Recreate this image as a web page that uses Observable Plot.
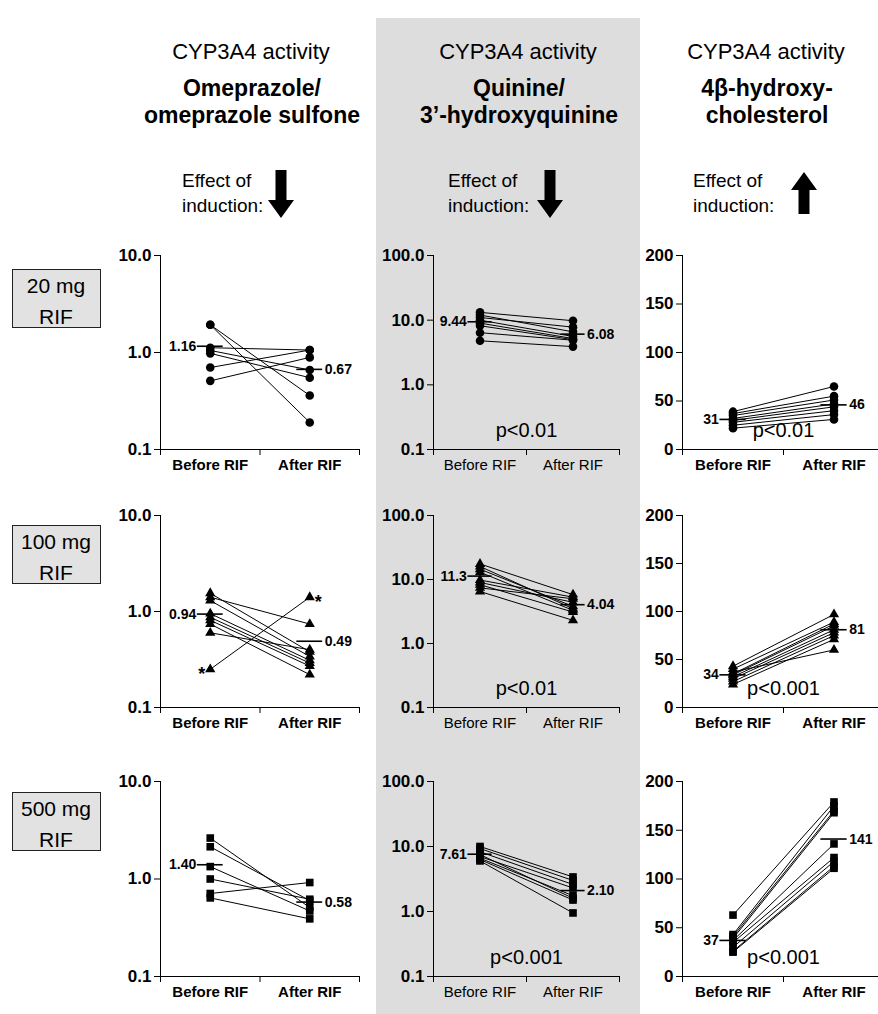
<!DOCTYPE html>
<html><head><meta charset="utf-8">
<script src="https://cdn.jsdelivr.net/npm/d3@7"></script>
<script src="https://cdn.jsdelivr.net/npm/@observablehq/plot@0.6"></script>
<style>
html,body{margin:0;padding:0;background:#fff;}
body{width:878px;height:1014px;position:relative;overflow:hidden;font-family:"Liberation Sans",Arial,sans-serif;}
#band{position:absolute;left:376px;top:18px;width:264px;height:996px;background:#dddddd;}
.panel{position:absolute;}
.panel svg{overflow:visible;max-width:none;}
#overlay{position:absolute;left:0;top:0;}
</style></head><body>
<div id="band"></div>
<svg id="overlay" width="878" height="1014"></svg>
<script>
// ---------- categories & labels ----------
const cats = ["Before RIF", "After RIF"];
const heads = ["CYP3A4 activity", "CYP3A4 activity", "CYP3A4 activity"];
const probes = [["Omeprazole/", "omeprazole sulfone"], ["Quinine/", "3’-hydroxyquinine"], ["4β-hydroxy-", "cholesterol"]];
const effectLines = ["Effect of", "induction:"];
const effects = ["down", "down", "up"];
const doses = [["20 mg", "RIF"], ["100 mg", "RIF"], ["500 mg", "RIF"]];

// ---------- omeprazole / omeprazole sulfone ----------
const omeBefore20 = [1.93, 1.93, 1.12, 1.05, 0.98, 0.70, 0.51];
const omeAfter20  = [0.36, 0.19, 1.06, 0.66, 0.55, 1.06, 0.89];
const omeMean20   = [1.16, 0.67];
const omeBefore100 = [1.55, 1.41, 1.30, 0.95, 0.87, 0.81, 0.74, 0.60, 0.25];
const omeAfter100  = [0.38, 0.74, 0.34, 0.31, 0.29, 0.27, 0.22, 0.40, 1.41];
const omeFlag100   = [8];
const omeMean100   = [0.94, 0.49];
const omeBefore500 = [2.63, 2.14, 1.34, 1.00, 0.71, 0.64];
const omeAfter500  = [0.51, 0.60, 0.47, 0.62, 0.92, 0.39];
const omeMean500   = [1.40, 0.58];

// ---------- quinine / 3'-hydroxyquinine ----------
const quiBefore20 = [13.2, 12.0, 11.0, 10.0, 9.0, 8.2, 6.4, 4.8];
const quiAfter20  = [9.8, 6.6, 7.8, 5.6, 5.2, 5.0, 4.9, 3.9];
const quiMean20   = [9.44, 6.08];
const quiBefore100 = [17.5, 16.0, 14.5, 13.0, 9.8, 9.0, 8.3, 7.4, 6.5];
const quiAfter100  = [5.8, 3.5, 3.8, 3.3, 5.3, 4.4, 3.1, 5.0, 2.3];
const quiMean100   = [11.3, 4.04];
const quiBefore500 = [10.0, 9.3, 8.3, 7.5, 7.0, 6.6, 6.3, 6.0];
const quiAfter500  = [3.4, 3.0, 2.6, 1.6, 2.3, 1.75, 1.5, 0.95];
const quiMean500   = [7.61, 2.10];
const quiP = ["p<0.01", "p<0.01", "p<0.001"];

// ---------- 4beta-hydroxycholesterol ----------
const ohcBefore20 = [39, 37, 35, 32, 30, 28, 25, 22];
const ohcAfter20  = [65, 55, 51, 47, 44, 40, 36, 31];
const ohcMean20   = [31, 46];
const ohcBefore100 = [43, 40, 37, 35, 34, 32, 30, 27, 24];
const ohcAfter100  = [97, 89, 60, 87, 85, 81, 78, 75, 71];
const ohcMean100   = [34, 81];
const ohcBefore500 = [63, 43, 41, 39, 37, 35, 30, 26, 25];
const ohcAfter500  = [179, 175, 170, 168, 136, 122, 118, 113, 111];
const ohcMean500   = [37, 141];
const ohcP = ["p<0.01", "p<0.001", "p<0.001"];

const logTicks10 = [0.1, 1, 10];
const logTicks100 = [0.1, 1, 10, 100];
const linTicks = [0, 50, 100, 150, 200];
const symbols = ["circle", "triangle", "square"];

// ---------- layout ----------
const cols = [[160, 359], [433, 619], [682, 884]];
const rows = [[255, 449], [515, 707], [781, 976]];
const FONT = "'Liberation Sans', Arial, Helvetica, sans-serif";

function panel({before, after, means, meanFmt, col, row, y, ticks, tickFormat, p, flags = [], xWeight}) {
  const [x0, x1] = cols[col], [y0, y1] = rows[row];
  const mL = 60, mR = 10, mT = 12, mB = 40;
  const sym = symbols[row];
  const r = sym === "triangle" ? 3.8 : 4.3;
  const pts = [...before.map((v, i) => ({k: 0, v, i})), ...after.map((v, i) => ({k: 1, v, i}))];
  const pairs = before.map((b, i) => ({b, a: after[i], i}));
  const mm = means.map((m, k) => ({k, m}));
  const flagged = pts.filter(d => flags.includes(d.i));
  const hw = 0.13;
  const marks = [
    Plot.ruleX([0], {stroke: "#000"}),
    Plot.ruleY([y.domain[0]], {stroke: "#000"}),
    Plot.axisY({ticks, tickFormat, tickSize: 6, tickPadding: 3, fontWeight: "bold", fontSize: 17, label: null}),
    Plot.axisX({ticks: [0, 1, 2], tickFormat: () => "", tickSize: 6, label: null}),
    Plot.axisX({ticks: [0.5, 1.5], tickSize: 0, tickPadding: 10, tickFormat: d => cats[Math.floor(d)], fontWeight: xWeight, fontSize: 15, label: null}),
    Plot.link(pairs, {x1: () => 0.5, x2: () => 1.5, y1: "b", y2: "a", stroke: "#000", strokeWidth: 1}),
    Plot.dot(pts, {x: d => d.k + 0.5, y: "v", symbol: () => sym, fill: "#000", stroke: "none", r}),
    Plot.ruleY(mm, {y: "m", x1: d => d.k + 0.5 - hw, x2: d => d.k + 0.5 + hw, stroke: "#000", strokeWidth: 1.6}),
    Plot.text(mm.filter(d => d.k === 0), {y: "m", x: d => d.k + 0.5 - hw, text: d => meanFmt(d.m), textAnchor: "end", dx: -1, fontWeight: "bold", fontSize: 14}),
    Plot.text(mm.filter(d => d.k === 1), {y: "m", x: d => d.k + 0.5 + hw, text: d => meanFmt(d.m), textAnchor: "start", dx: 2, fontWeight: "bold", fontSize: 14}),
    Plot.text(flagged.filter(d => d.k === 0), {x: d => d.k + 0.5, y: "v", text: () => "*", textAnchor: "end", dx: -5, dy: 5, fontWeight: "bold", fontSize: 18}),
    Plot.text(flagged.filter(d => d.k === 1), {x: d => d.k + 0.5, y: "v", text: () => "*", textAnchor: "start", dx: 5, dy: 5, fontWeight: "bold", fontSize: 18})
  ];
  if (p) marks.push(Plot.text([p], {x: () => 1, frameAnchor: "bottom", text: d => d, dy: -13, fontSize: 20}));
  const chart = Plot.plot({
    width: (x1 - x0) + mL + mR,
    height: (y1 - y0) + mT + mB,
    marginLeft: mL, marginRight: mR, marginTop: mT, marginBottom: mB,
    style: {background: "transparent", fontFamily: FONT, fontSize: "15px", color: "#000", overflow: "visible"},
    x: {domain: [0, 2]},
    y,
    marks
  });
  const div = document.createElement("div");
  div.className = "panel";
  div.style.left = (x0 - mL) + "px";
  div.style.top = (y0 - mT) + "px";
  div.appendChild(chart);
  document.body.appendChild(div);
}

const f2 = d3.format(".2f"), f3 = d3.format(".3g"), fd = d3.format("d"), t1 = d3.format(".1f");
const ome = [[omeBefore20, omeAfter20, omeMean20, []], [omeBefore100, omeAfter100, omeMean100, omeFlag100], [omeBefore500, omeAfter500, omeMean500, []]];
const qui = [[quiBefore20, quiAfter20, quiMean20], [quiBefore100, quiAfter100, quiMean100], [quiBefore500, quiAfter500, quiMean500]];
const ohc = [[ohcBefore20, ohcAfter20, ohcMean20], [ohcBefore100, ohcAfter100, ohcMean100], [ohcBefore500, ohcAfter500, ohcMean500]];

for (let r = 0; r < 3; r++) {
  panel({before: ome[r][0], after: ome[r][1], means: ome[r][2], flags: ome[r][3], meanFmt: f2, col: 0, row: r,
    y: {type: "log", domain: [0.1, 10]}, ticks: logTicks10, tickFormat: t1, xWeight: "bold"});
  panel({before: qui[r][0], after: qui[r][1], means: qui[r][2], meanFmt: f3, col: 1, row: r,
    y: {type: "log", domain: [0.1, 100]}, ticks: logTicks100, tickFormat: t1, p: quiP[r], xWeight: "normal"});
  panel({before: ohc[r][0], after: ohc[r][1], means: ohc[r][2], meanFmt: fd, col: 2, row: r,
    y: {type: "linear", domain: [0, 200]}, ticks: linTicks, tickFormat: fd, p: ohcP[r], xWeight: "bold"});
}

// ---------- headers, arrows, dose boxes ----------
const ov = d3.select("#overlay").style("font-family", FONT);
const headX = [251, 518, 766];
const effectX = [182, 448, 693];
const arrowX = [281, 550, 804];
heads.forEach((t, i) => {
  ov.append("text").attr("x", headX[i]).attr("y", 59).attr("text-anchor", "middle").attr("font-size", 22).text(t);
  probes[i].forEach((s, j) => ov.append("text").attr("x", headX[i] + 1).attr("y", 96 + j * 27)
    .attr("text-anchor", "middle").attr("font-size", 23).attr("font-weight", "bold").text(s));
  effectLines.forEach((s, j) => ov.append("text").attr("x", effectX[i]).attr("y", 187 + j * 25)
    .attr("font-size", 19).text(s));
  const cx = arrowX[i], sw = 5.5, hw = 13;
  let pts;
  if (effects[i] === "down") {
    const t = 170, hb = 200, tip = 218;
    pts = [[cx - sw, t], [cx + sw, t], [cx + sw, hb], [cx + hw, hb], [cx, tip], [cx - hw, hb], [cx - sw, hb]];
  } else {
    const tip = 172, hb = 190, b = 214;
    pts = [[cx, tip], [cx + hw, hb], [cx + sw, hb], [cx + sw, b], [cx - sw, b], [cx - sw, hb], [cx - hw, hb]];
  }
  ov.append("polygon").attr("points", pts.map(p => p.join(",")).join(" ")).attr("fill", "#000");
});
const boxTop = [269, 525, 792];
doses.forEach((d, i) => {
  ov.append("rect").attr("x", 12.5).attr("y", boxTop[i] + 0.5).attr("width", 88).attr("height", 58)
    .attr("fill", "#e2e2e2").attr("stroke", "#222").attr("stroke-width", 1);
  d.forEach((s, j) => ov.append("text").attr("x", 56).attr("y", boxTop[i] + 24 + j * 31)
    .attr("text-anchor", "middle").attr("font-size", 21).text(s));
});
</script>
</body></html>
